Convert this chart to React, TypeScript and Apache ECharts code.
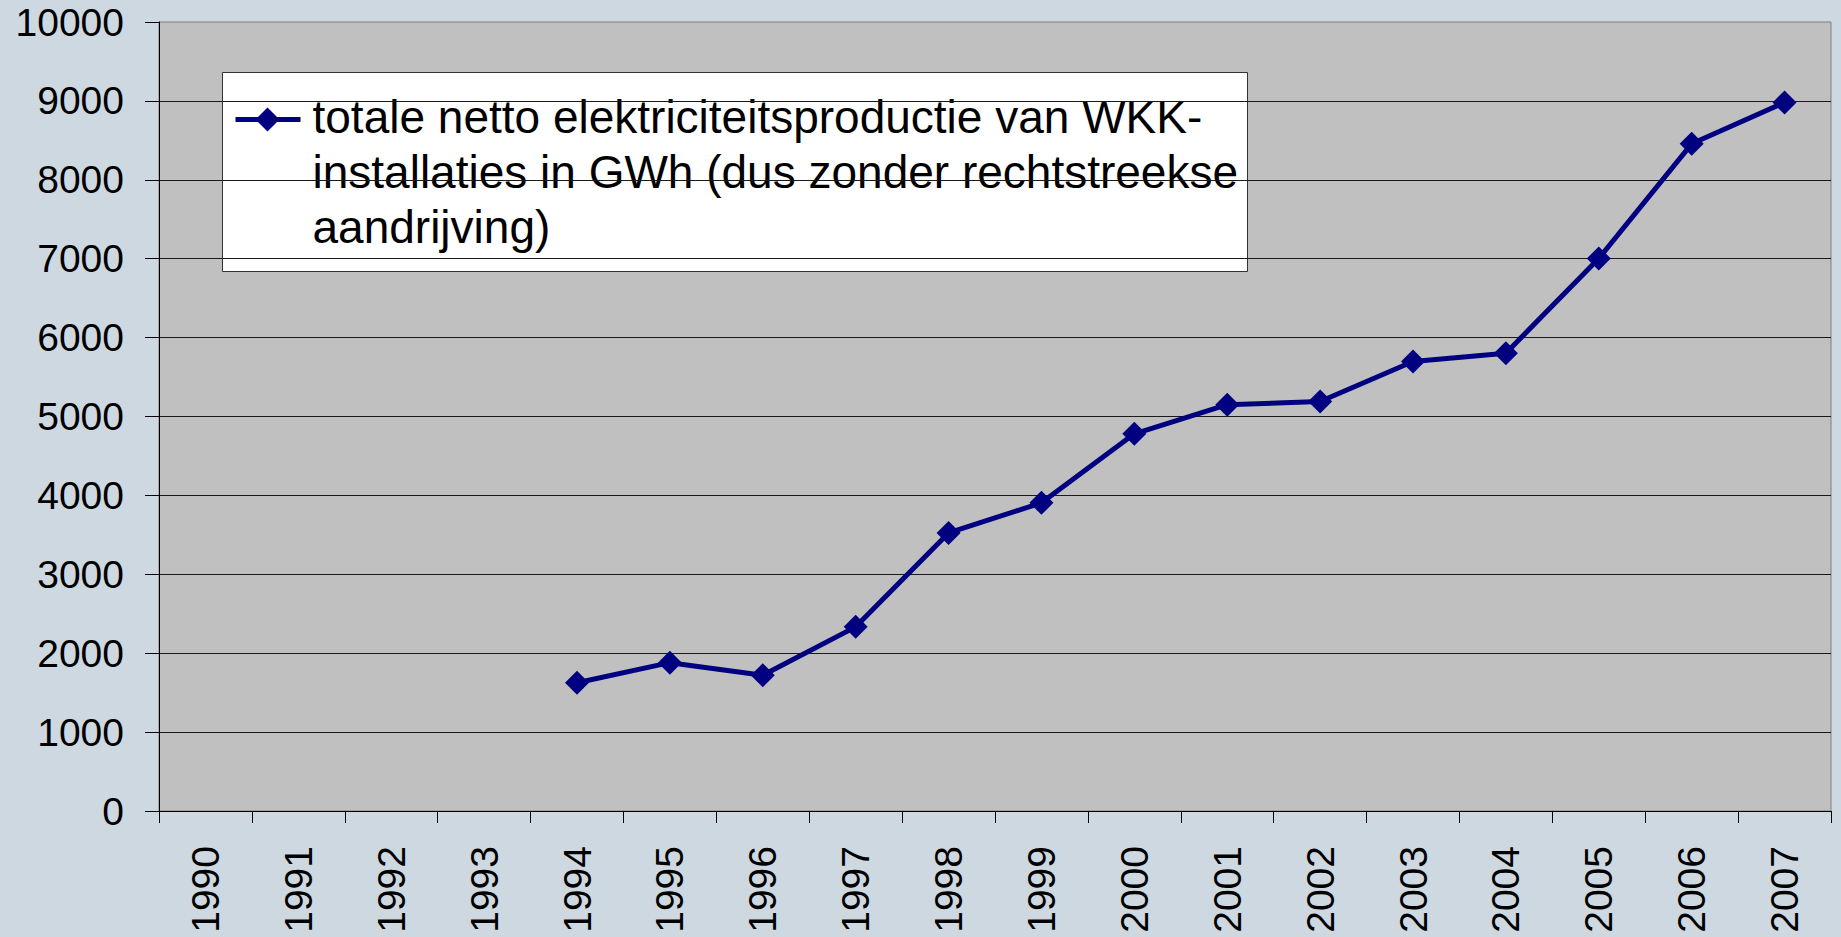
import React, { useEffect, useRef } from "react";
import * as echarts from "echarts";

const years = ["1990","1991","1992","1993","1994","1995","1996","1997","1998","1999","2000","2001","2002","2003","2004","2005","2006","2007"];
const production = [null, null, null, null, 1625, 1880, 1721, 2334, 3524, 3906, 4780, 5150, 5190, 5697, 5803, 7003, 8456, 8980];
const seriesName = "totale netto elektriciteitsproductie van WKK-installaties in GWh (dus zonder rechtstreekse aandrijving)";
const legendLines = ["totale netto elektriciteitsproductie van WKK-", "installaties in GWh (dus zonder rechtstreekse", "aandrijving)"];

const FONT = "'Liberation Sans', Arial, sans-serif";
const NAVY = "#000080";

export default function App() {
  const ref = useRef<HTMLDivElement>(null);
  useEffect(() => {
    if (!ref.current) return;
    const chart = echarts.init(ref.current, null, { renderer: "svg" });
    chart.setOption({
      animation: false,
      backgroundColor: "#CED8E0",
      grid: {
        left: 159,
        right: 10,
        top: 22,
        bottom: 126,
        containLabel: false,
        show: true,
        backgroundColor: "#C0C0C0",
        borderColor: "#808080",
        borderWidth: 1,
      },
      xAxis: {
        type: "category",
        data: years,
        boundaryGap: true,
        axisLine: { show: true, lineStyle: { color: "#000", width: 1 } },
        axisTick: { show: true, length: 12, inside: false, alignWithLabel: false, lineStyle: { color: "#000" } },
        axisLabel: { rotate: 90, margin: 35, fontSize: 39, color: "#000", fontFamily: FONT, interval: 0 },
        splitLine: { show: false },
      },
      yAxis: {
        type: "value",
        min: 0,
        max: 10000,
        interval: 1000,
        axisLine: { show: true, lineStyle: { color: "#000", width: 1 } },
        axisTick: { show: true, length: 14, inside: false, lineStyle: { color: "#000" } },
        axisLabel: { margin: 35, fontSize: 39, color: "#000", fontFamily: FONT, formatter: (v: number) => String(v) },
        splitLine: { show: true, showMaxLine: false, lineStyle: { color: "#1a1a1a", width: 1 } },
      },
      series: [
        {
          name: seriesName,
          type: "line",
          data: production,
          lineStyle: { color: NAVY, width: 5 },
          itemStyle: { color: NAVY },
          symbol: "diamond",
          symbolSize: [24, 24],
          showSymbol: true,
          connectNulls: false,
        },
      ],
      graphic: [
        {
          type: "group",
          left: 222,
          top: 72,
          children: [
            {
              type: "rect",
              shape: { x: 0, y: 0, width: 1025, height: 199 },
              style: { fill: "#FFFFFF", stroke: "#333333", lineWidth: 1 },
            },
            {
              type: "line",
              shape: { x1: 13, y1: 47, x2: 78, y2: 47 },
              style: { stroke: NAVY, lineWidth: 5 },
            },
            {
              type: "polygon",
              shape: { points: [[45, 35], [57, 47], [45, 59], [33, 47]] },
              style: { fill: NAVY },
            },
            {
              type: "text",
              x: 90,
              y: 17,
              style: {
                text: legendLines.join("\n"),
                font: `46px ${FONT}`,
                fill: "#000",
                lineHeight: 55,
                verticalAlign: "top",
                align: "left",
              },
            },
          ],
        },
      ],
    });
    return () => chart.dispose();
  }, []);
  return <div ref={ref} style={{ position: "fixed", left: 0, top: 0, width: 1841, height: 937 }} />;
}
